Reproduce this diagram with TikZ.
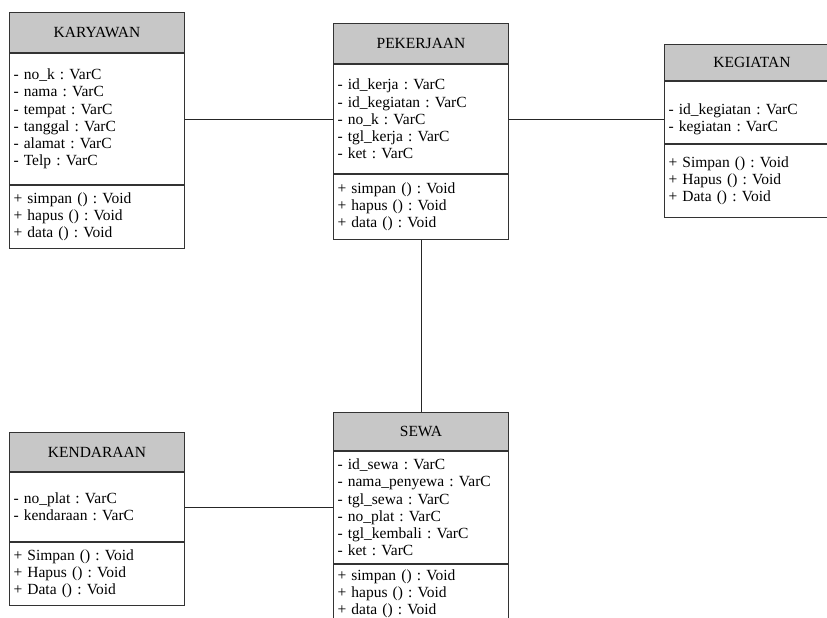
\documentclass[tikz,border=0pt]{standalone}
\usepackage{fontspec}
\setmainfont{Liberation Serif}
\usetikzlibrary{positioning}
\frenchspacing

\begin{document}
\begin{tikzpicture}[
    x=1pt, y=-1pt,
    node distance=0pt,
    every node/.style={font=\fontsize{15.5}{17.2}\selectfont},
    head/.style={rectangle, draw=black!80, line width=1pt, fill=black!22, minimum width=175pt, inner sep=0pt, anchor=north west},
    part/.style={rectangle, draw=black!80, line width=1pt, fill=white, text width=167pt, align=left, inner xsep=4pt, inner ysep=0pt},
    link/.style={draw=black!85, line width=0.9pt}
]
    \useasboundingbox (0,0) rectangle (827,618);
    \clip (0,0) rectangle (827,618);

    \node[head, minimum height=40pt] (karyawanHead) at (9,12) {KARYAWAN};
    \node[part, minimum height=131pt, below=of karyawanHead] (karyawanAttr) {- no\_k : VarC\\- nama : VarC\\- tempat : VarC\\- tanggal : VarC\\- alamat : VarC\\- Telp : VarC};
    \node[part, minimum height=63pt, below=of karyawanAttr] (karyawanOps) {+ simpan () : Void\\+ hapus () : Void\\+ data () : Void};

    \node[head, minimum height=40pt] (pekerjaanHead) at (333,23) {PEKERJAAN};
    \node[part, minimum height=109pt, below=of pekerjaanHead] (pekerjaanAttr) {- id\_kerja : VarC\\- id\_kegiatan : VarC\\- no\_k : VarC\\- tgl\_kerja : VarC\\- ket : VarC};
    \node[part, minimum height=65pt, below=of pekerjaanAttr] (pekerjaanOps) {+ simpan () : Void\\+ hapus () : Void\\+ data () : Void};

    \node[head, minimum height=36pt] (kegiatanHead) at (664,44) {KEGIATAN};
    \node[part, minimum height=62pt, below=of kegiatanHead] (kegiatanAttr) {\rule{0pt}{25pt}- id\_kegiatan : VarC\\- kegiatan : VarC};
    \node[part, minimum height=73pt, below=of kegiatanAttr] (kegiatanOps) {+ Simpan () : Void\\+ Hapus () : Void\\+ Data () : Void};

    \node[head, minimum height=39pt] (kendaraanHead) at (9,432) {KENDARAAN};
    \node[part, minimum height=69pt, below=of kendaraanHead] (kendaraanAttr) {- no\_plat : VarC\\- kendaraan : VarC};
    \node[part, minimum height=63pt, below=of kendaraanAttr] (kendaraanOps) {+ Simpan () : Void\\+ Hapus () : Void\\+ Data () : Void};

    \node[head, minimum height=38pt] (sewaHead) at (333,412) {SEWA};
    \node[part, minimum height=112pt, below=of sewaHead] (sewaAttr) {- id\_sewa : VarC\\- nama\_penyewa : VarC\\- tgl\_sewa : VarC\\- no\_plat : VarC\\- tgl\_kembali : VarC\\- ket : VarC};
    \node[part, minimum height=58pt, below=of sewaAttr] (sewaOps) {+ simpan () : Void\\+ hapus () : Void\\+ data () : Void};

    \draw[link] (karyawanAttr.east) -- (pekerjaanAttr.west);
    \draw[link] (pekerjaanAttr.east) -- (kegiatanAttr.west |- pekerjaanAttr.east);
    \draw[link] (pekerjaanOps.south) -- (sewaHead.north);
    \draw[link] (kendaraanAttr.east) -- (sewaAttr.west |- kendaraanAttr.east);
\end{tikzpicture}
\end{document}
